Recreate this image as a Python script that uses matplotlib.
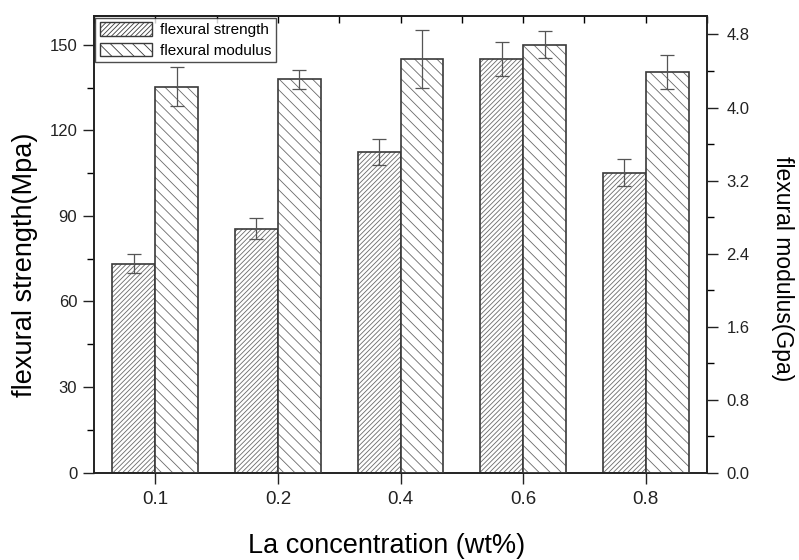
import matplotlib
matplotlib.use("Agg")
import matplotlib.pyplot as plt
import numpy as np
from matplotlib.ticker import FixedLocator, FormatStrFormatter

plt.rcParams['font.family'] = ['Liberation Sans', 'DejaVu Sans']
plt.rcParams['hatch.linewidth'] = 0.6

categories = ['0.1', '0.2', '0.4', '0.6', '0.8']
strength = [73.3, 85.5, 112.4, 145.1, 105.2]
strength_err = [3.2, 3.6, 4.4, 6.0, 4.6]
modulus = [4.23, 4.31, 4.53, 4.69, 4.39]
modulus_err = [0.21, 0.105, 0.32, 0.15, 0.185]

fig = plt.figure(figsize=(7.99, 5.6), dpi=100)
ax = fig.add_axes([0.1176, 0.156, 0.885 - 0.1176, 0.971 - 0.156])
ax2 = ax.twinx()

x = np.arange(len(categories))
w = 0.35
edge = '#3a3a3a'
hcol = '#6a6a6a'

b1 = ax.bar(x - w / 2, strength, w, color='white', edgecolor=hcol, hatch='///////',
            linewidth=0, zorder=2)
ax.bar(x - w / 2, strength, w, color='none', edgecolor=edge, linewidth=1.2, zorder=3)
ax.errorbar(x - w / 2, strength, yerr=strength_err, fmt='none', ecolor='#555555',
            elinewidth=0.9, capsize=5, capthick=0.9, zorder=4)

b2 = ax2.bar(x + w / 2, modulus, w, color='white', edgecolor=hcol, hatch='\\\\\\',
             linewidth=0, zorder=2)
ax2.bar(x + w / 2, modulus, w, color='none', edgecolor=edge, linewidth=1.2, zorder=3)
ax2.errorbar(x + w / 2, modulus, yerr=modulus_err, fmt='none', ecolor='#555555',
             elinewidth=0.9, capsize=5, capthick=0.9, zorder=4)

ax.set_xlim(-0.5, 4.5)
ax.set_ylim(0, 160)
ax2.set_ylim(0, 5.0)

ax.set_xticks(x)
ax.set_xticklabels(categories)
ax.yaxis.set_major_locator(FixedLocator([0, 30, 60, 90, 120, 150]))
ax.yaxis.set_minor_locator(FixedLocator([15, 45, 75, 105, 135]))
ax2.yaxis.set_major_locator(FixedLocator([0.0, 0.8, 1.6, 2.4, 3.2, 4.0, 4.8]))
ax2.yaxis.set_minor_locator(FixedLocator([0.4, 1.2, 2.0, 2.8, 3.6, 4.4]))
ax2.yaxis.set_major_formatter(FormatStrFormatter('%.1f'))

ax.tick_params(axis='x', which='major', direction='out', length=8, width=1,
               labelsize=13.5, colors='#222222', pad=5)
ax.tick_params(axis='y', which='major', direction='out', length=8, width=1,
               labelsize=12, colors='#222222', pad=4)
ax.tick_params(axis='y', which='minor', direction='out', length=5, width=1)
ax2.tick_params(axis='y', which='major', direction='out', length=8, width=1,
                labelsize=12, colors='#222222', pad=6)
ax2.tick_params(axis='y', which='minor', direction='out', length=5, width=1)

top = ax.secondary_xaxis('top')
top.set_xticks(np.arange(-0.5, 4.51, 0.5))
top.tick_params(direction='in', length=5, width=1, labeltop=False)
top.set_xticklabels([])

for a in (ax, ax2):
    for s in a.spines.values():
        s.set_linewidth(1.2)
        s.set_color('#222222')
for s in top.spines.values():
    s.set_linewidth(1.2)

ax.set_ylabel('flexural strength(Mpa)', fontsize=19.5, labelpad=8)
ax.yaxis.label.set_y(0.455)
ax2.set_ylabel('flexural modulus(Gpa)', fontsize=16.5, rotation=270, labelpad=32)
ax2.yaxis.label.set_y(0.447)
ax.set_xlabel('La concentration (wt%)', fontsize=19.5, labelpad=18)
ax.xaxis.label.set_x(0.478)

leg = ax.legend([b1, b2], ['flexural strength', 'flexural modulus'], loc='upper left',
                bbox_to_anchor=(0.0, 1.0), fontsize=11, frameon=True, fancybox=False,
                borderaxespad=0.1, handlelength=3.4, handleheight=1.0,
                borderpad=0.3, labelspacing=0.35, handletextpad=0.5)
leg.get_frame().set_edgecolor('#222222')
leg.get_frame().set_linewidth(1.0)
for p in leg.get_patches():
    p.set_edgecolor(edge)
    p.set_linewidth(1.0)

fig.savefig('out.png', dpi=100)
